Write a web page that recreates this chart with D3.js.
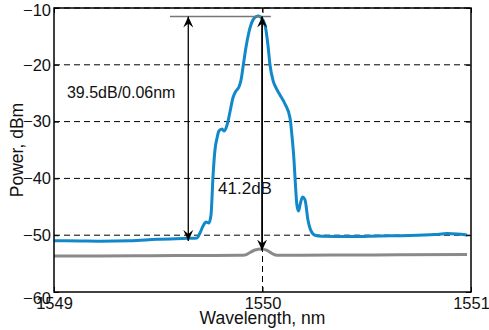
<!DOCTYPE html>
<html>
<head>
<meta charset="utf-8">
<script src="https://cdn.jsdelivr.net/npm/d3@7"></script>
<style>
  body { margin: 0; background: #fff; }
  text { font-family: "Liberation Sans", Arial, sans-serif; }
</style>
</head>
<body>
<div id="chart"></div>
<script>
// spectrum with signal (blue) and without (gray)
const blueWl = [1549.000, 1549.125, 1549.221, 1549.365, 1549.494, 1549.638, 1549.686, 1549.700, 1549.715, 1549.729,
  1549.743, 1549.753, 1549.763, 1549.772, 1549.782, 1549.791, 1549.806, 1549.815, 1549.830, 1549.844,
  1549.858, 1549.873, 1549.887, 1549.897, 1549.908, 1549.921, 1549.935, 1549.954, 1549.969, 1549.980,
  1549.993, 1550.012, 1550.026, 1550.036, 1550.050, 1550.065, 1550.084, 1550.108, 1550.132, 1550.141,
  1550.151, 1550.158, 1550.165, 1550.173, 1550.180, 1550.192, 1550.204, 1550.218, 1550.233, 1550.252,
  1550.285, 1550.420, 1550.564, 1550.707, 1550.827, 1550.885, 1550.933, 1550.981]
const bluePow = [-50.97, -51.02, -51.07, -50.99, -50.72, -50.55, -50.49, -49.61, -48.38, -47.68,
  -47.85, -46.44, -39.40, -35.00, -32.89, -31.66, -31.30, -31.66, -30.60, -28.31,
  -25.85, -24.61, -23.91, -22.68, -20.04, -16.87, -14.23, -12.11, -11.50, -11.41,
  -11.67, -12.99, -16.51, -20.04, -22.68, -24.08, -25.32, -26.90, -29.37, -32.36,
  -36.76, -41.16, -44.68, -45.74, -44.68, -43.27, -43.80, -47.32, -49.26, -50.00,
  -50.18, -50.23, -50.14, -50.07, -49.89, -49.72, -49.79, -49.96]

const grayWl = [1549.000, 1549.221, 1549.461, 1549.700, 1549.892, 1549.916, 1549.940, 1549.964, 1549.996,
  1550.022, 1550.046, 1550.070, 1550.180, 1550.420, 1550.659, 1550.981]
const grayPow = [-53.66, -53.66, -53.62, -53.57, -53.53, -53.49, -53.05, -52.61, -52.43,
  -52.69, -53.22, -53.53, -53.53, -53.49, -53.45, -53.40]

const xTicks = [1549, 1550, 1551]
const yTicks = [-60, -50, -40, -30, -20, -10]

// annotations
const peakLevel = -11.5
const leftArrow = {wl: 1549.644, from: -11.5, to: -51.0}
const rightArrow = {wl: 1549.998, from: -11.5, to: -52.7}
const peakLine = [1549.556, 1550.04]
const labels = [
  {text: '39.5dB/0.06nm', wl: 1549.062, p: -25.85},
  {text: '41.2dB', wl: 1549.787, p: -42.75}
]

const width = 489
const height = 330
const margin = ({top: 8, right: 18, bottom: 38, left: 54})

const x = d3.scaleLinear()
  .domain([1549, 1551])
  .range([margin.left, width - margin.right])

const y = d3.scaleLinear()
  .domain([-60, -10])
  .range([height - margin.bottom, margin.top])

const svg = d3.select('#chart').append('svg')
  .attr('width', width).attr('height', height)

// dashed grid
svg.append('g')
  .selectAll('line')
  .data(yTicks.slice(1))
  .join('line')
    .attr('x1', x(1549)).attr('x2', x(1551))
    .attr('y1', d => y(d)).attr('y2', d => y(d))
    .attr('stroke', '#000')
    .attr('stroke-width', 1)
    .attr('stroke-dasharray', '6,4')

svg.append('g')
  .selectAll('line')
  .data([1550])
  .join('line')
    .attr('x1', d => x(d)).attr('x2', d => x(d))
    .attr('y1', y(-60)).attr('y2', y(-10))
    .attr('stroke', '#000')
    .attr('stroke-width', 1)
    .attr('stroke-dasharray', '6,4')

const line = d3.line()
  .x(d => x(d[0]))
  .y(d => y(d[1]))
  .curve(d3.curveMonotoneX)

svg.append('path')
  .datum(d3.zip(grayWl, grayPow))
  .attr('fill', 'none')
  .attr('stroke', '#8a8a8a')
  .attr('stroke-width', 3)
  .attr('d', line)

svg.append('path')
  .datum(d3.zip(blueWl, bluePow))
  .attr('fill', 'none')
  .attr('stroke', '#1088ca')
  .attr('stroke-width', 3)
  .attr('stroke-linejoin', 'round')
  .attr('d', line)

// peak reference line
svg.append('line')
  .attr('x1', x(peakLine[0])).attr('x2', x(peakLine[1]))
  .attr('y1', y(peakLevel)).attr('y2', y(peakLevel))
  .attr('stroke', '#777')
  .attr('stroke-width', 1.5)

// arrow heads
svg.append('defs').append('marker')
  .attr('id', 'head')
  .attr('viewBox', '-11 -6 12 12')
  .attr('refX', 0).attr('refY', 0)
  .attr('markerWidth', 12).attr('markerHeight', 12)
  .attr('markerUnits', 'userSpaceOnUse')
  .attr('orient', 'auto-start-reverse')
  .append('path')
    .attr('d', 'M0,0 L-11,-5 L-7,0 L-11,5 Z')
    .attr('fill', '#000')

svg.append('g')
  .selectAll('line')
  .data([leftArrow, rightArrow])
  .join('line')
    .attr('x1', d => x(d.wl)).attr('x2', d => x(d.wl))
    .attr('y1', d => y(d.from)).attr('y2', d => y(d.to))
    .attr('stroke', '#000')
    .attr('stroke-width', (d, i) => i == 0 ? 1.3 : 1.8)
    .attr('marker-start', 'url(#head)')
    .attr('marker-end', 'url(#head)')

svg.append('g')
  .selectAll('text')
  .data(labels)
  .join('text')
    .attr('x', d => x(d.wl))
    .attr('y', d => y(d.p))
    .style('font-size', (d, i) => i == 0 ? '16px' : '17px')
    .attr('fill', '#111')
    .text(d => d.text)

// axes with inward ticks (box style)
const xAxis = g => g
  .attr('transform', `translate(0,${height - margin.bottom})`)
  .call(d3.axisBottom(x).tickValues(xTicks).tickFormat(d3.format('d')).tickSize(-5).tickPadding(5))
  .call(g => g.select('.domain').remove())
  .call(g => g.selectAll('text').style('font-size', '16.5px').attr('fill', '#111'))

const yAxis = g => g
  .attr('transform', `translate(${margin.left},0)`)
  .call(d3.axisLeft(y).tickValues(yTicks).tickSize(-5).tickPadding(3))
  .call(g => g.select('.domain').remove())
  .call(g => g.selectAll('text').style('font-size', '16.5px').attr('fill', '#111'))
  .call(g => g.selectAll('.tick').filter(d => d == -60).select('text').attr('dy', '0.7em'))
  .call(g => g.selectAll('.tick').filter(d => d == -10).select('text').attr('dy', '0.45em'))

svg.append('g').call(xAxis)
svg.append('g').call(yAxis)

svg.append('g')
  .attr('transform', `translate(0,${margin.top})`)
  .call(d3.axisTop(x).tickValues(xTicks).tickFormat('').tickSize(-5))
  .call(g => g.select('.domain').remove())

svg.append('g')
  .attr('transform', `translate(${width - margin.right},0)`)
  .call(d3.axisRight(y).tickValues(yTicks).tickFormat('').tickSize(-5))
  .call(g => g.select('.domain').remove())

// box
svg.append('rect')
  .attr('x', x(1549)).attr('y', y(-10))
  .attr('width', x(1551) - x(1549))
  .attr('height', y(-60) - y(-10))
  .attr('fill', 'none')
  .attr('stroke', '#000')
  .attr('stroke-width', 1.5)

svg.append('text')
  .attr('x', (margin.left + width - margin.right) / 2)
  .attr('y', 324)
  .attr('text-anchor', 'middle')
  .style('font-size', '17.5px')
  .attr('fill', '#111')
  .text('Wavelength, nm')

svg.append('text')
  .attr('transform', `translate(23,${(margin.top + height - margin.bottom) / 2}) rotate(-90)`)
  .attr('text-anchor', 'middle')
  .style('font-size', '17.5px')
  .attr('fill', '#111')
  .text('Power, dBm')
</script>
</body>
</html>
